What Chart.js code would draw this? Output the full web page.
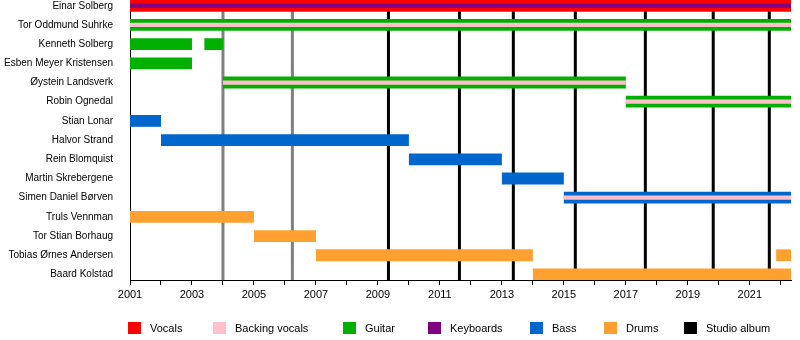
<!DOCTYPE html>
<html>
<head>
<meta charset="utf-8">
<script src="https://cdn.jsdelivr.net/npm/chart.js@4.4.1/dist/chart.umd.min.js"></script>
<style>
  html, body { margin: 0; padding: 0; background: #fff; }
  #wrap { width: 800px; height: 340px; }
</style>
</head>
<body>
<div id="wrap"><canvas id="timeline"></canvas></div>
<script>
// Data
const members = [
  'Einar Solberg', 'Tor Oddmund Suhrke', 'Kenneth Solberg', 'Esben Meyer Kristensen',
  'Øystein Landsverk', 'Robin Ognedal', 'Stian Lonar', 'Halvor Strand', 'Rein Blomquist',
  'Martin Skrebergene', 'Simen Daniel Børven', 'Truls Vennman', 'Tor Stian Borhaug',
  'Tobias Ørnes Andersen', 'Baard Kolstad'
];

const START = 2001;
const END = 2022.33;

// [member index, from, to]
const vocalsSpans = [[0, 2001, END]];
const keyboardsSpans = [[0, 2001, END]];
const backingSpans = [[1, 2001, END], [4, 2004, 2017], [5, 2017, END], [10, 2015, END]];
const guitarSpans = [[1, 2001, END], [2, 2001, 2003], [2, 2003.4, 2004], [3, 2001, 2003], [4, 2004, 2017], [5, 2017, END]];
const bassSpans = [[6, 2001, 2002], [7, 2002, 2010], [8, 2010, 2013], [9, 2013, 2015], [10, 2015, END]];
const drumsSpans = [[11, 2001, 2005], [12, 2005, 2007], [13, 2007, 2014], [13, 2021.85, END], [14, 2014, END]];

const albumYears = [2009.34, 2011.63, 2013.37, 2015.37, 2017.63, 2019.82, 2021.63];
const otherReleases = [2004.0, 2006.24];

const legendLabels = ['Vocals', 'Backing vocals', 'Guitar', 'Keyboards', 'Bass', 'Drums', 'Studio album'];

// Colours
const colors = {
  vocals: '#ff0000',
  backing: '#ffc0cb',
  guitar: '#00b000',
  keyboards: '#800080',
  bass: '#0066cc',
  drums: '#ffa030',
  album: '#000000',
  release: '#808080'
};
const legendColors = [colors.vocals, colors.backing, colors.guitar, colors.keyboards, colors.bass, colors.drums, colors.album];

const FONT = "'Liberation Sans', Arial, sans-serif";
const FONT_SIZE = 11;
const NAME_SIZE = 10;

function toBars(spans) {
  return spans.map(s => ({ x: [s[1], s[2]], y: s[0] }));
}

function barSet(label, spans, color, thin) {
  return {
    label,
    data: toBars(spans),
    backgroundColor: color,
    borderWidth: 0,
    grouped: false,
    categoryPercentage: 1,
    barPercentage: thin ? 0.22 : 0.615,
    order: thin ? 1 : 2
  };
}

// Vertical release lines behind the bars
const releaseLines = {
  id: 'releaseLines',
  beforeDatasetsDraw(chart) {
    const { ctx, chartArea, scales } = chart;
    ctx.save();
    ctx.lineWidth = 3;
    const draw = (years, color) => {
      ctx.strokeStyle = color;
      years.forEach(yr => {
        const x = scales.x.getPixelForValue(yr);
        ctx.beginPath();
        ctx.moveTo(x, chartArea.top);
        ctx.lineTo(x, chartArea.bottom);
        ctx.stroke();
      });
    };
    draw(otherReleases, colors.release);
    draw(albumYears, colors.album);
    ctx.restore();
  }
};

// Legend row under the axis
const legendRow = {
  id: 'legendRow',
  afterDraw(chart) {
    const { ctx } = chart;
    const boxX = [128, 213, 343, 428, 530, 604, 684];
    ctx.save();
    ctx.font = FONT_SIZE + 'px ' + FONT;
    ctx.textBaseline = 'middle';
    legendLabels.forEach((label, i) => {
      ctx.fillStyle = legendColors[i];
      ctx.fillRect(boxX[i], 322, 13, 12);
      ctx.fillStyle = '#000';
      ctx.fillText(label, boxX[i] + 22, 328.5);
    });
    ctx.restore();
  }
};

new Chart(document.getElementById('timeline'), {
  type: 'bar',
  data: {
    datasets: [
      barSet('Keyboards', keyboardsSpans, colors.keyboards, true),
      barSet('Backing vocals', backingSpans, colors.backing, true),
      barSet('Vocals', vocalsSpans, colors.vocals, false),
      barSet('Guitar', guitarSpans, colors.guitar, false),
      barSet('Bass', bassSpans, colors.bass, false),
      barSet('Drums', drumsSpans, colors.drums, false)
    ]
  },
  options: {
    indexAxis: 'y',
    responsive: true,
    maintainAspectRatio: false,
    animation: false,
    layout: { padding: { top: 0, right: 9, bottom: 0, left: 0 } },
    plugins: {
      legend: { display: false },
      tooltip: { enabled: true }
    },
    scales: {
      x: {
        type: 'linear',
        position: 'bottom',
        min: START,
        max: END,
        offset: false,
        afterFit: scale => {
          scale.height = 60;
          scale.paddingLeft = 0;
          scale.paddingRight = 0;
        },
        grid: { display: true, drawOnChartArea: false, drawTicks: true, tickLength: 5, color: '#000' },
        border: { display: true, color: '#000', width: 1 },
        ticks: {
          stepSize: 1,
          includeBounds: false,
          autoSkip: false,
          maxRotation: 0,
          padding: 3,
          color: '#000',
          font: { family: FONT, size: FONT_SIZE },
          callback: v => (v % 2 === 1 ? String(v) : '')
        }
      },
      y: {
        type: 'linear',
        reverse: true,
        offset: false,
        min: -0.30,
        max: 14.29,
        afterFit: scale => {
          scale.width = 130;
          scale.paddingTop = 0;
          scale.paddingBottom = 0;
        },
        afterBuildTicks: scale => { scale.ticks = members.map((_, i) => ({ value: i })); },
        grid: { display: false, offset: false },
        border: { display: true, color: '#000', width: 1 },
        ticks: {
          padding: 9,
          color: '#000',
          font: { family: FONT, size: NAME_SIZE },
          callback: v => members[v]
        }
      }
    }
  },
  plugins: [releaseLines, legendRow]
});
</script>
</body>
</html>
